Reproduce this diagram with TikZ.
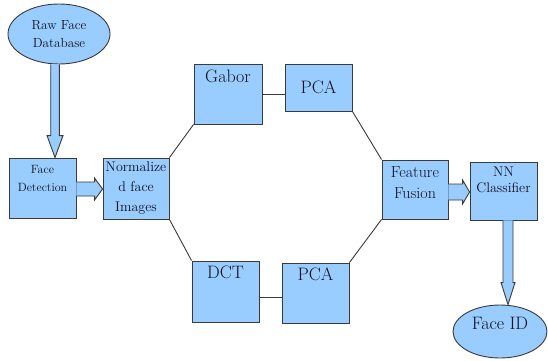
\documentclass[tikz,border=0pt]{standalone}
\usetikzlibrary{shapes.geometric,calc}
\definecolor{boxfill}{HTML}{99CCFF}
\definecolor{edgecol}{HTML}{3A3A3A}
\definecolor{txtcol}{HTML}{10101C}
\tikzset{
  box/.style={draw=edgecol, fill=boxfill, line width=0.9pt, rectangle, inner sep=0pt, align=center, text=txtcol},
  oval/.style={draw=edgecol, fill=boxfill, line width=0.9pt, ellipse, inner sep=0pt, align=center, text=txtcol},
  small/.style={font=\fontsize{13.2}{18}\selectfont},
  smaller/.style={font=\fontsize{12}{18}\selectfont},
  big/.style={font=\fontsize{18}{21}\selectfont},
  mid/.style={font=\fontsize{16}{21}\selectfont},
  link/.style={draw=edgecol, line width=0.9pt},
  barrow/.style={fill=boxfill},
  barrowline/.style={draw=edgecol, line width=0.9pt, line join=miter},
  intext/.style={anchor=center, inner sep=0pt, align=center, text=txtcol},
}
\newcommand{\bkdown}[5]{%
  \fill[barrow] ($(#1)+(-#3,0)$) -- ($(#2)+(-#3,-#5)$) -- ($(#2)+(-#4,-#5)$) -- (#2)
     -- ($(#2)+(#4,-#5)$) -- ($(#2)+(#3,-#5)$) -- ($(#1)+(#3,0)$) -- cycle;
  \draw[barrowline] ($(#1)+(-#3,0)$) -- ($(#2)+(-#3,-#5)$) -- ($(#2)+(-#4,-#5)$) -- (#2)
     -- ($(#2)+(#4,-#5)$) -- ($(#2)+(#3,-#5)$) -- ($(#1)+(#3,0)$);
}
\newcommand{\bkright}[5]{%
  \fill[barrow] ($(#1)+(0,-#3)$) -- ($(#2)+(-#5,-#3)$) -- ($(#2)+(-#5,-#4)$) -- (#2)
     -- ($(#2)+(-#5,#4)$) -- ($(#2)+(-#5,#3)$) -- ($(#1)+(0,#3)$) -- cycle;
  \draw[barrowline] ($(#1)+(0,-#3)$) -- ($(#2)+(-#5,-#3)$) -- ($(#2)+(-#5,-#4)$) -- (#2)
     -- ($(#2)+(-#5,#4)$) -- ($(#2)+(-#5,#3)$) -- ($(#1)+(0,#3)$);
}
\begin{document}
\begin{tikzpicture}[x=1pt,y=-1pt]
  \fill[white] (0,0) rectangle (548,360);
  \useasboundingbox (0,0) rectangle (548,360);

  \node[oval, small, minimum width=102pt, minimum height=60pt] (raw) at (59,34) {Raw Face\\Database};
  \node[box, minimum width=67pt, minimum height=60pt,
        label={[intext,smaller,yshift=-21pt]north:{Face\\Detection}}] (fd) at (42.5,188) {};
  \node[box, font=\fontsize{14}{20}\selectfont, minimum width=66pt, minimum height=61pt] (norm) at (136,188.5) {Normalize\\d face\\Images};
  \node[box, minimum width=68pt, minimum height=60pt,
        label={[intext,big,yshift=-13pt]north:Gabor}] (gabor) at (228,94) {};
  \node[box, big, minimum width=67pt, minimum height=47pt] (pca1) at (318.5,87.5) {PCA};
  \node[box, minimum width=67pt, minimum height=61pt,
        label={[intext,big,yshift=-12pt]north:DCT}] (dct) at (225.5,291.5) {};
  \node[box, minimum width=67pt, minimum height=60pt,
        label={[intext,big,yshift=-12pt]north:PCA}] (pca2) at (315.5,293) {};
  \node[box, minimum width=66pt, minimum height=59pt,
        label={[intext,mid,yshift=7pt]center:{Feature\\Fusion}}] (ff) at (415,189.5) {};
  \node[box, minimum width=67pt, minimum height=58pt,
        label={[intext,font=\fontsize{14}{16}\selectfont,yshift=-18pt]north:{NN\\Classifier}}] (nn) at (503.5,191) {};
  \node[oval, minimum width=94pt, minimum height=53pt,
        label={[intext,big,yshift=8pt]center:Face ID}] (faceid) at (500,331.5) {};

  % thin connectors
  \draw[link] (norm.north east) -- (gabor.south west);
  \draw[link] (gabor.east) -- (gabor.east -| pca1.west);
  \draw[link] (pca1.south east) -- (ff.north west);
  \draw[link] (norm.south east) -- (dct.north west);
  \coordinate (dctr) at ($(dct.east)+(0,5.5)$);
  \draw[link] (dctr) -- (dctr -| pca2.west);
  \draw[link] (pca2.north east) -- (ff.south west);

  % block arrows
  \coordinate (a1s) at ($(raw.south)+(-4,0)$);
  \coordinate (a1e) at (a1s |- fd.north);
  \bkdown{a1s}{a1e}{4.3}{8}{22}
  \coordinate (a2s) at ($(fd.east)+(0,1)$);
  \coordinate (a2e) at (a2s -| norm.west);
  \bkright{a2s}{a2e}{7}{11}{8}
  \coordinate (a3s) at ($(ff.east)+(0,2.5)$);
  \coordinate (a3e) at (a3s -| nn.west);
  \bkright{a3s}{a3e}{8}{12}{7}
  \coordinate (a4s) at ($(nn.south)+(4.5,0)$);
  \coordinate (a4e) at (a4s |- faceid.north);
  \bkdown{a4s}{a4e}{5}{7}{22}
\end{tikzpicture}
\end{document}
